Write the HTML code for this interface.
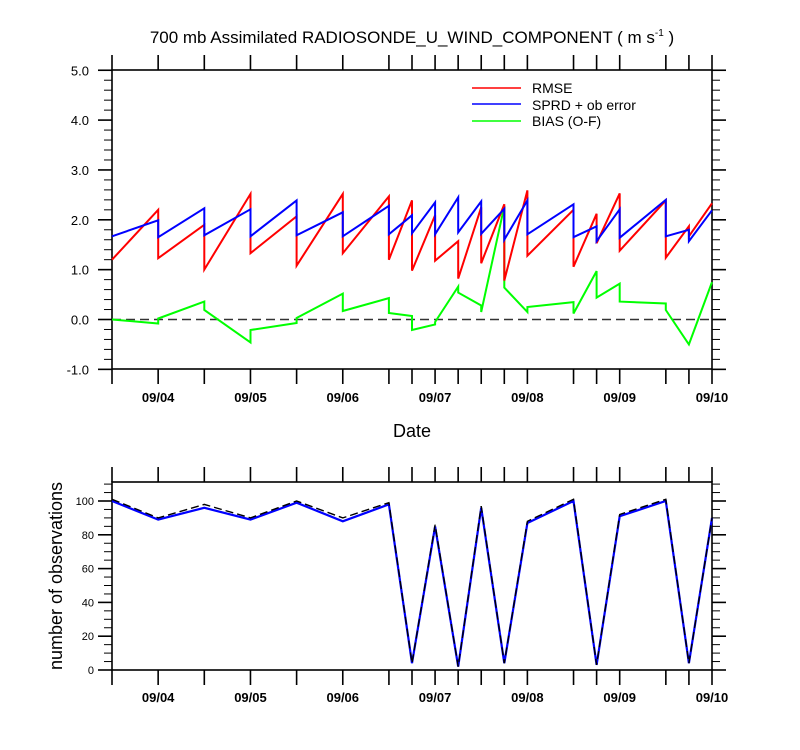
<!DOCTYPE html>
<html><head><meta charset="utf-8"><style>
html,body{margin:0;padding:0;background:#fff}
svg{display:block;font-family:"Liberation Sans",Arial,sans-serif}
</style></head><body>
<svg id="c" width="800" height="750" viewBox="0 0 800 750">
<text x="412" y="43" font-size="17" text-anchor="middle">700 mb Assimilated RADIOSONDE_U_WIND_COMPONENT ( m s<tspan dy="-7" font-size="10">-1</tspan><tspan dy="7"> )</tspan></text>
<text x="412" y="437" font-size="18" text-anchor="middle">Date</text>
<text transform="translate(62,576) rotate(-90)" font-size="18" text-anchor="middle">number of observations</text>
<g>
<line x1="472" y1="88" x2="521" y2="88" stroke="#f00" stroke-width="1.5"/>
<text x="532" y="93" font-size="14">RMSE</text>
<line x1="472" y1="104" x2="521" y2="104" stroke="#00f" stroke-width="1.5"/>
<text x="532" y="110" font-size="14">SPRD + ob error</text>
<line x1="472" y1="121" x2="521" y2="121" stroke="#0f0" stroke-width="1.5"/>
<text x="532" y="126" font-size="14">BIAS (O-F)</text>
</g>
<g id="g"></g>
</svg>
<script>
const times=[3.5,4.0,4.5,5.0,5.5,6.0,6.5,6.75,7.0,7.25,7.5,7.75,8.0,8.5,8.75,9.0,9.5,9.75,10.0];
const dateTicks=[4,5,6,7,8,9,10];
const dateLabels=["09/04","09/05","09/06","09/07","09/08","09/09","09/10"];
const rmseStart=[1.20,1.23,1.00,1.33,1.08,1.33,1.20,0.98,1.18,0.82,1.13,0.78,1.28,1.06,1.53,1.38,1.24,1.67];
const rmseEnd=[2.20,1.90,2.52,2.07,2.52,2.47,2.39,2.09,1.57,2.25,2.31,2.59,2.20,2.12,2.53,2.39,1.87,2.33];
const sprdStart=[1.67,1.65,1.69,1.67,1.69,1.67,1.71,1.73,1.71,1.75,1.72,1.60,1.71,1.65,1.57,1.64,1.67,1.57];
const sprdEnd=[1.99,2.23,2.21,2.39,2.15,2.28,2.09,2.35,2.45,2.37,2.22,2.39,2.31,1.87,2.21,2.40,1.80,2.19];
const biasStart=[0.00,0.02,0.19,-0.21,0.03,0.17,0.13,-0.21,-0.05,0.54,0.15,0.64,0.25,0.12,0.44,0.36,0.19,-0.50];
const biasEnd=[-0.08,0.36,-0.46,-0.07,0.52,0.43,0.07,-0.10,0.66,0.28,2.27,0.15,0.35,0.97,0.72,0.32,-0.50,0.75];
const obsUsed=[100,89,96,89,99,88,98,4,85,2,96,4,87,100,3,91,100,4,90];
const obsTotal=[101,90,98,90,100,90,99,4,86,2,97,4,88,101,3,92,101,4,90];
const topTicks=[-1,0,1,2,3,4,5];
const botTicks=[0,20,40,60,80,100];

const NS="http://www.w3.org/2000/svg";
const G=document.getElementById('g');
function mk(t,a,p){const e=document.createElementNS(NS,t);for(const k in a)e.setAttribute(k,a[k]);(p||G).appendChild(e);return e;}
const X0=112,X1=712;
const xs=d=>X0+(d-3.5)/6.5*(X1-X0);
const yT=v=>319.5-v*49.85;
const yB=v=>670-v*1.69;

function segPath(st,en,ys){let d="";for(let i=0;i<st.length;i++){d+=(i?"L":"M")+xs(times[i]).toFixed(1)+","+ys(st[i]).toFixed(1)+"L"+xs(times[i+1]).toFixed(1)+","+ys(en[i]).toFixed(1);}return d;}
function linePath(v,ys){return v.map((a,i)=>(i?"L":"M")+xs(times[i]).toFixed(1)+","+ys(a).toFixed(1)).join("");}

function frame(top,bot,name){
  const r=mk('rect',{x:X0,y:top,width:X1-X0,height:bot-top,fill:"none",stroke:"#000","stroke-width":1.6});
  
  
  times.forEach(t=>{
    const l1=mk('line',{x1:xs(t),x2:xs(t),y1:top-15,y2:top,stroke:"#000","stroke-width":1.6});
    
    
    const l2=mk('line',{x1:xs(t),x2:xs(t),y1:bot,y2:bot+15,stroke:"#000","stroke-width":1.6});
    
    
  });
}
frame(70,369,'top-plot-frame');
frame(482,670,'bottom-plot-frame');

for(let v=-1;v<=5.001;v+=0.2){
  const maj=Math.abs(v-Math.round(v))<1e-6;const L=maj?14:8;
  const a=mk('line',{x1:X0-L,x2:X0,y1:yT(v),y2:yT(v),stroke:"#000","stroke-width":maj?1.6:1});
  
  
  const b=mk('line',{x1:X1,x2:X1+L,y1:yT(v),y2:yT(v),stroke:"#000","stroke-width":maj?1.6:1});
  
  
}
topTicks.forEach(v=>{
  const t=mk('text',{x:89,y:yT(v)+5,"font-size":13,"text-anchor":"end"});t.textContent=v.toFixed(1);
  
  
});
for(let v=0;v<=110;v+=5){
  const maj=v%20===0;const L=maj?14:8;
  const a=mk('line',{x1:X0-L,x2:X0,y1:yB(v),y2:yB(v),stroke:"#000","stroke-width":maj?1.6:1});
  
  
  const b=mk('line',{x1:X1,x2:X1+L,y1:yB(v),y2:yB(v),stroke:"#000","stroke-width":maj?1.6:1});
  
  
}
botTicks.forEach(v=>{
  const t=mk('text',{x:94,y:yB(v)+4,"font-size":11,"text-anchor":"end"});t.textContent=String(v);
  
  
});
dateTicks.forEach((d,i)=>{
  const a=mk('text',{x:xs(d),y:402,"font-size":13,"font-weight":"bold","text-anchor":"middle"});a.textContent=dateLabels[i];
  
  
  const b=mk('text',{x:xs(d),y:702,"font-size":13,"font-weight":"bold","text-anchor":"middle"});b.textContent=dateLabels[i];
  
  
});
const z=mk('line',{x1:X0,x2:X1,y1:yT(0),y2:yT(0),stroke:"#333","stroke-width":1.6,"stroke-dasharray":"9,5"});


const pb=mk('path',{d:segPath(biasStart,biasEnd,yT),fill:"none",stroke:"#0f0","stroke-width":2});


const pr=mk('path',{d:segPath(rmseStart,rmseEnd,yT),fill:"none",stroke:"#f00","stroke-width":2});


const ps=mk('path',{d:segPath(sprdStart,sprdEnd,yT),fill:"none",stroke:"#00f","stroke-width":2});


const pu=mk('path',{d:linePath(obsUsed,yB),fill:"none",stroke:"#00f","stroke-width":2.2});


const pt=mk('path',{d:linePath(obsTotal,yB),fill:"none",stroke:"#000","stroke-width":1.4,"stroke-dasharray":"8,4"});


</script>
</body></html>
